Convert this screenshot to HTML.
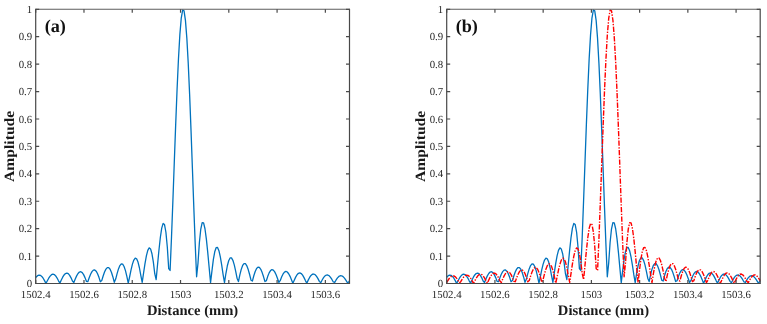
<!DOCTYPE html>
<html><head><meta charset="utf-8"><title>fig</title>
<style>
html,body{margin:0;padding:0;background:#fff;}
svg{display:block}
svg{will-change:transform}
text{text-rendering:geometricPrecision;font-family:"Liberation Serif",serif;fill:#262626}
.tk{font-size:10.8px}
.lb{font-size:14.6px;font-weight:bold;fill:#1a1a1a}
.pn{font-size:18.2px;font-weight:bold;fill:#111}
</style></head><body>
<svg width="767" height="324" viewBox="0 0 767 324">
<rect width="767" height="324" fill="#fff"/>
<rect x="35.7" y="9.3" width="313.8" height="274.2" fill="#fff" stroke="none"/>
<path d="M35.70,277.69 L36.17,277.07 L37.57,275.69 L38.96,275.08 L40.36,275.32 L41.75,276.40 L43.15,278.23 L44.55,280.63 L45.94,283.38 L47.34,280.81 L48.73,278.21 L50.13,276.10 L51.52,274.70 L52.92,274.17 L54.31,274.59 L55.71,275.92 L57.10,278.06 L58.50,280.80 L59.89,283.12 L61.29,280.00 L62.68,277.18 L64.08,274.93 L65.47,273.51 L66.87,273.07 L68.26,273.70 L69.66,275.34 L71.05,277.86 L72.45,281.02 L73.84,282.48 L75.24,279.00 L76.63,275.89 L78.03,273.48 L79.42,272.03 L80.82,271.71 L82.21,272.60 L83.61,274.63 L85.00,277.62 L86.40,281.31 L87.79,281.67 L89.19,277.72 L90.58,274.24 L91.98,271.61 L93.37,270.12 L94.77,269.96 L96.16,271.18 L97.56,273.71 L98.95,277.33 L100.35,281.71 L101.74,280.58 L103.14,276.01 L104.53,272.04 L105.93,269.11 L107.32,267.56 L108.72,267.59 L110.11,269.26 L111.51,272.47 L112.90,276.94 L114.30,282.27 L115.69,279.05 L117.09,273.59 L118.48,268.93 L119.88,265.56 L121.27,263.89 L122.67,264.18 L124.06,266.48 L125.46,270.66 L126.85,276.38 L128.25,283.12 L129.64,276.74 L131.04,269.93 L132.43,264.15 L133.83,260.06 L135.22,258.17 L136.62,258.81 L138.01,262.06 L139.41,267.75 L140.80,275.47 L142.20,282.45 L143.59,272.84 L144.99,263.64 L146.38,255.84 L147.78,250.33 L149.17,247.86 L150.57,248.94 L151.96,253.76 L153.36,262.19 L154.75,273.71 L156.15,279.54 L157.54,264.73 L158.94,250.21 L160.33,237.51 L161.73,228.12 L163.12,223.41 L164.52,224.52 L165.91,232.25 L167.31,246.98 L168.70,268.61 L170.10,270.48 L171.49,237.42 L172.89,200.77 L174.28,162.46 L175.68,124.62 L177.07,89.41 L178.47,58.83 L179.86,34.59 L181.26,18.02 L182.65,10.00 L184.05,10.89 L185.44,20.39 L186.84,38.09 L188.23,63.20 L189.63,94.52 L191.02,130.38 L192.42,168.73 L193.81,207.36 L195.21,244.02 L196.60,276.73 L198.00,263.09 L199.39,242.50 L200.79,229.02 L202.18,222.63 L203.58,222.83 L204.97,228.74 L206.37,239.14 L207.76,252.59 L209.16,267.58 L210.55,282.57 L211.95,270.81 L213.34,259.67 L214.74,251.83 L216.13,247.72 L217.53,247.41 L218.92,250.64 L220.32,256.81 L221.71,265.15 L223.11,274.70 L224.50,282.54 L225.90,273.51 L227.29,266.03 L228.69,260.72 L230.08,257.96 L231.48,257.88 L232.87,260.31 L234.27,264.90 L235.66,271.07 L237.06,278.15 L238.45,281.60 L239.85,274.90 L241.24,269.36 L242.64,265.49 L244.03,263.57 L245.43,263.71 L246.82,265.80 L248.22,269.55 L249.61,274.53 L251.01,280.19 L252.40,281.05 L253.80,275.76 L255.19,271.44 L256.59,268.48 L257.98,267.13 L259.38,267.45 L260.77,269.35 L262.17,272.59 L263.56,276.81 L264.96,281.54 L266.35,280.68 L267.75,276.35 L269.14,272.87 L270.54,270.56 L271.93,269.61 L273.33,270.07 L274.72,271.86 L276.12,274.75 L277.51,278.43 L278.91,282.51 L280.30,280.43 L281.70,276.79 L283.09,273.92 L284.49,272.09 L285.88,271.45 L287.28,272.02 L288.67,273.73 L290.07,276.36 L291.46,279.64 L292.86,283.23 L294.25,280.25 L295.65,277.14 L297.04,274.75 L298.44,273.28 L299.83,272.87 L301.23,273.54 L302.62,275.18 L304.02,277.62 L305.41,280.59 L306.81,283.21 L308.20,280.12 L309.60,277.43 L310.99,275.41 L312.39,274.24 L313.78,274.02 L315.18,274.76 L316.57,276.36 L317.97,278.63 L319.36,281.35 L320.76,282.77 L322.15,280.02 L323.55,277.68 L324.94,275.96 L326.34,275.03 L327.73,274.97 L329.13,275.77 L330.52,277.32 L331.92,279.47 L333.31,281.98 L334.71,282.41 L336.10,279.95 L337.50,277.89 L338.89,276.43 L340.29,275.71 L341.68,275.78 L343.08,276.62 L344.47,278.14 L345.87,280.17 L347.26,282.50 L348.66,282.11 L349.50,280.73" fill="none" stroke="#0072BD" stroke-width="1.3" stroke-linejoin="round"/>
<path d="M35.7,8.700000000000001V283.5H350.1M349.5,283.5V8.700000000000001" fill="none" stroke="#484848" stroke-width="1.2"/>
<path d="M35.7,9.3H349.5" fill="none" stroke="#5c5c5c" stroke-width="1.1"/>
<path d="M35.7,283.50h3.5 M349.5,283.50h-3.5 M35.7,256.08h3.5 M349.5,256.08h-3.5 M35.7,228.66h3.5 M349.5,228.66h-3.5 M35.7,201.24h3.5 M349.5,201.24h-3.5 M35.7,173.82h3.5 M349.5,173.82h-3.5 M35.7,146.40h3.5 M349.5,146.40h-3.5 M35.7,118.98h3.5 M349.5,118.98h-3.5 M35.7,91.56h3.5 M349.5,91.56h-3.5 M35.7,64.14h3.5 M349.5,64.14h-3.5 M35.7,36.72h3.5 M349.5,36.72h-3.5 M35.7,9.30h3.5 M349.5,9.30h-3.5 M35.70,283.5v-3.5 M35.70,9.3v3.5 M83.98,283.5v-3.5 M83.98,9.3v3.5 M132.25,283.5v-3.5 M132.25,9.3v3.5 M180.53,283.5v-3.5 M180.53,9.3v3.5 M228.81,283.5v-3.5 M228.81,9.3v3.5 M277.08,283.5v-3.5 M277.08,9.3v3.5 M325.36,283.5v-3.5 M325.36,9.3v3.5" stroke="#4a4a4a" stroke-width="1.2" fill="none"/>
<text x="32.2" y="287.10" text-anchor="end" class="tk">0</text>
<text x="32.2" y="259.68" text-anchor="end" class="tk">0.1</text>
<text x="32.2" y="232.26" text-anchor="end" class="tk">0.2</text>
<text x="32.2" y="204.84" text-anchor="end" class="tk">0.3</text>
<text x="32.2" y="177.42" text-anchor="end" class="tk">0.4</text>
<text x="32.2" y="150.00" text-anchor="end" class="tk">0.5</text>
<text x="32.2" y="122.58" text-anchor="end" class="tk">0.6</text>
<text x="32.2" y="95.16" text-anchor="end" class="tk">0.7</text>
<text x="32.2" y="67.74" text-anchor="end" class="tk">0.8</text>
<text x="32.2" y="40.32" text-anchor="end" class="tk">0.9</text>
<text x="32.2" y="12.90" text-anchor="end" class="tk">1</text>
<text x="35.70" y="297.5" text-anchor="middle" class="tk">1502.4</text>
<text x="83.98" y="297.5" text-anchor="middle" class="tk">1502.6</text>
<text x="132.25" y="297.5" text-anchor="middle" class="tk">1502.8</text>
<text x="180.53" y="297.5" text-anchor="middle" class="tk">1503</text>
<text x="228.81" y="297.5" text-anchor="middle" class="tk">1503.2</text>
<text x="277.08" y="297.5" text-anchor="middle" class="tk">1503.4</text>
<text x="325.36" y="297.5" text-anchor="middle" class="tk">1503.6</text>
<text x="192.60" y="315.3" text-anchor="middle" class="lb">Distance (mm)</text>
<text transform="translate(13.70,146.40) rotate(-90) scale(1.1,1)" text-anchor="middle" class="lb" style="font-size:14.2px">Amplitude</text>
<text x="44.70" y="32" class="pn">(a)</text>
<rect x="446.7" y="9.3" width="313.50000000000006" height="274.2" fill="#fff" stroke="none"/>
<path d="M446.70,277.29 L446.88,277.07 L448.27,275.69 L449.66,275.08 L451.06,275.32 L452.45,276.40 L453.85,278.23 L455.24,280.63 L456.64,283.38 L458.03,280.81 L459.43,278.21 L460.82,276.10 L462.22,274.70 L463.61,274.17 L465.01,274.59 L466.40,275.92 L467.80,278.06 L469.19,280.80 L470.59,283.12 L471.98,280.00 L473.38,277.18 L474.77,274.93 L476.17,273.51 L477.56,273.07 L478.96,273.70 L480.35,275.34 L481.75,277.86 L483.14,281.02 L484.54,282.48 L485.93,279.00 L487.33,275.89 L488.72,273.48 L490.12,272.03 L491.51,271.71 L492.91,272.60 L494.30,274.63 L495.70,277.62 L497.09,281.31 L498.49,281.67 L499.88,277.72 L501.28,274.24 L502.67,271.61 L504.07,270.12 L505.46,269.96 L506.86,271.18 L508.25,273.71 L509.65,277.33 L511.04,281.71 L512.44,280.58 L513.83,276.01 L515.23,272.04 L516.62,269.11 L518.02,267.56 L519.41,267.59 L520.81,269.26 L522.20,272.47 L523.60,276.94 L524.99,282.27 L526.39,279.05 L527.78,273.59 L529.18,268.93 L530.57,265.56 L531.97,263.89 L533.36,264.18 L534.76,266.48 L536.15,270.66 L537.55,276.38 L538.94,283.12 L540.34,276.74 L541.73,269.93 L543.13,264.15 L544.52,260.06 L545.92,258.17 L547.31,258.81 L548.71,262.06 L550.10,267.75 L551.50,275.47 L552.89,282.45 L554.29,272.84 L555.68,263.64 L557.08,255.84 L558.47,250.33 L559.87,247.86 L561.26,248.94 L562.66,253.76 L564.05,262.19 L565.45,273.71 L566.84,279.54 L568.24,264.73 L569.63,250.21 L571.03,237.51 L572.42,228.12 L573.82,223.41 L575.21,224.52 L576.61,232.25 L578.00,246.98 L579.40,268.61 L580.79,270.48 L582.19,237.42 L583.58,200.77 L584.98,162.46 L586.37,124.62 L587.77,89.41 L589.16,58.83 L590.56,34.59 L591.95,18.02 L593.35,10.00 L594.74,10.89 L596.14,20.39 L597.53,38.09 L598.93,63.20 L600.32,94.52 L601.72,130.38 L603.11,168.73 L604.51,207.36 L605.90,244.02 L607.30,276.73 L608.69,263.09 L610.09,242.50 L611.48,229.02 L612.88,222.63 L614.27,222.83 L615.67,228.74 L617.06,239.14 L618.46,252.59 L619.85,267.58 L621.25,282.57 L622.64,270.81 L624.04,259.67 L625.43,251.83 L626.83,247.72 L628.22,247.41 L629.62,250.64 L631.01,256.81 L632.41,265.15 L633.80,274.70 L635.20,282.54 L636.59,273.51 L637.99,266.03 L639.38,260.72 L640.78,257.96 L642.17,257.88 L643.57,260.31 L644.96,264.90 L646.36,271.07 L647.75,278.15 L649.15,281.60 L650.54,274.90 L651.94,269.36 L653.33,265.49 L654.73,263.57 L656.12,263.71 L657.52,265.80 L658.91,269.55 L660.31,274.53 L661.70,280.19 L663.10,281.05 L664.49,275.76 L665.89,271.44 L667.28,268.48 L668.68,267.13 L670.07,267.45 L671.47,269.35 L672.86,272.59 L674.26,276.81 L675.65,281.54 L677.05,280.68 L678.44,276.35 L679.84,272.87 L681.23,270.56 L682.63,269.61 L684.02,270.07 L685.42,271.86 L686.81,274.75 L688.21,278.43 L689.60,282.51 L691.00,280.43 L692.39,276.79 L693.79,273.92 L695.18,272.09 L696.58,271.45 L697.97,272.02 L699.37,273.73 L700.76,276.36 L702.16,279.64 L703.55,283.23 L704.95,280.25 L706.34,277.14 L707.74,274.75 L709.13,273.28 L710.53,272.87 L711.92,273.54 L713.32,275.18 L714.71,277.62 L716.11,280.59 L717.50,283.21 L718.90,280.12 L720.29,277.43 L721.69,275.41 L723.08,274.24 L724.48,274.02 L725.87,274.76 L727.27,276.36 L728.66,278.63 L730.06,281.35 L731.45,282.77 L732.85,280.02 L734.24,277.68 L735.64,275.96 L737.03,275.03 L738.43,274.97 L739.82,275.77 L741.22,277.32 L742.61,279.47 L744.01,281.98 L745.40,282.41 L746.80,279.95 L748.19,277.89 L749.59,276.43 L750.98,275.71 L752.38,275.78 L753.77,276.62 L755.17,278.14 L756.56,280.17 L757.96,282.50 L759.35,282.11 L760.20,280.73" fill="none" stroke="#0072BD" stroke-width="1.3" stroke-linejoin="round"/><path d="M446.70,282.42 L446.94,282.02 L448.33,279.78 L449.73,277.88 L451.12,276.52 L452.51,275.85 L453.91,275.95 L455.30,276.82 L456.70,278.38 L458.09,280.50 L459.49,282.97 L460.88,281.47 L462.28,279.06 L463.67,277.07 L465.07,275.69 L466.46,275.08 L467.86,275.32 L469.25,276.40 L470.65,278.23 L472.04,280.63 L473.44,283.38 L474.83,280.81 L476.23,278.21 L477.62,276.10 L479.02,274.70 L480.41,274.17 L481.81,274.59 L483.20,275.92 L484.60,278.06 L485.99,280.80 L487.39,283.12 L488.78,280.00 L490.18,277.18 L491.57,274.93 L492.97,273.51 L494.36,273.07 L495.76,273.70 L497.15,275.34 L498.55,277.86 L499.94,281.02 L501.34,282.48 L502.73,279.00 L504.13,275.89 L505.52,273.48 L506.92,272.03 L508.31,271.71 L509.71,272.60 L511.10,274.63 L512.50,277.62 L513.89,281.31 L515.29,281.67 L516.68,277.72 L518.08,274.24 L519.47,271.61 L520.87,270.12 L522.26,269.96 L523.66,271.18 L525.05,273.71 L526.45,277.33 L527.84,281.71 L529.24,280.58 L530.63,276.01 L532.03,272.04 L533.42,269.11 L534.82,267.56 L536.21,267.59 L537.61,269.26 L539.00,272.47 L540.40,276.94 L541.79,282.27 L543.19,279.05 L544.58,273.59 L545.98,268.93 L547.37,265.56 L548.77,263.89 L550.16,264.18 L551.56,266.48 L552.95,270.66 L554.35,276.38 L555.74,283.12 L557.14,276.74 L558.53,269.93 L559.93,264.15 L561.32,260.06 L562.72,258.17 L564.11,258.81 L565.51,262.06 L566.90,267.75 L568.30,275.47 L569.69,282.45 L571.09,272.84 L572.48,263.64 L573.88,255.84 L575.27,250.33 L576.67,247.86 L578.06,248.94 L579.46,253.76 L580.85,262.19 L582.25,273.71 L583.64,279.54 L585.04,264.73 L586.43,250.21 L587.83,237.51 L589.22,228.12 L590.62,223.41 L592.01,224.52 L593.41,232.25 L594.80,246.98 L596.20,268.61 L597.59,270.48 L598.99,237.42 L600.38,200.77 L601.78,162.46 L603.17,124.62 L604.57,89.41 L605.96,58.83 L607.36,34.59 L608.75,18.02 L610.15,10.00 L611.54,10.89 L612.94,20.39 L614.33,38.09 L615.73,63.20 L617.12,94.52 L618.52,130.38 L619.91,168.73 L621.31,207.36 L622.70,244.02 L624.10,276.73 L625.49,263.09 L626.89,242.50 L628.28,229.02 L629.68,222.63 L631.07,222.83 L632.47,228.74 L633.86,239.14 L635.26,252.59 L636.65,267.58 L638.05,282.57 L639.44,270.81 L640.84,259.67 L642.23,251.83 L643.63,247.72 L645.02,247.41 L646.42,250.64 L647.81,256.81 L649.21,265.15 L650.60,274.70 L652.00,282.54 L653.39,273.51 L654.79,266.03 L656.18,260.72 L657.58,257.96 L658.97,257.88 L660.37,260.31 L661.76,264.90 L663.16,271.07 L664.55,278.15 L665.95,281.60 L667.34,274.90 L668.74,269.36 L670.13,265.49 L671.53,263.57 L672.92,263.71 L674.32,265.80 L675.71,269.55 L677.11,274.53 L678.50,280.19 L679.90,281.05 L681.29,275.76 L682.69,271.44 L684.08,268.48 L685.48,267.13 L686.87,267.45 L688.27,269.35 L689.66,272.59 L691.06,276.81 L692.45,281.54 L693.85,280.68 L695.24,276.35 L696.64,272.87 L698.03,270.56 L699.43,269.61 L700.82,270.07 L702.22,271.86 L703.61,274.75 L705.01,278.43 L706.40,282.51 L707.80,280.43 L709.19,276.79 L710.59,273.92 L711.98,272.09 L713.38,271.45 L714.77,272.02 L716.17,273.73 L717.56,276.36 L718.96,279.64 L720.35,283.23 L721.75,280.25 L723.14,277.14 L724.54,274.75 L725.93,273.28 L727.33,272.87 L728.72,273.54 L730.12,275.18 L731.51,277.62 L732.91,280.59 L734.30,283.21 L735.70,280.12 L737.09,277.43 L738.49,275.41 L739.88,274.24 L741.28,274.02 L742.67,274.76 L744.07,276.36 L745.46,278.63 L746.86,281.35 L748.25,282.77 L749.65,280.02 L751.04,277.68 L752.44,275.96 L753.83,275.03 L755.23,274.97 L756.62,275.77 L758.02,277.32 L759.41,279.47 L760.20,280.85" fill="none" stroke="#FF0000" stroke-width="1.4" stroke-dasharray="5.3,1.4,1.4,1.4" stroke-linejoin="round"/>
<path d="M446.7,8.700000000000001V283.5H760.8000000000001M760.2,283.5V8.700000000000001" fill="none" stroke="#484848" stroke-width="1.2"/>
<path d="M446.7,9.3H760.2" fill="none" stroke="#5c5c5c" stroke-width="1.1"/>
<path d="M446.7,283.50h3.5 M760.2,283.50h-3.5 M446.7,256.08h3.5 M760.2,256.08h-3.5 M446.7,228.66h3.5 M760.2,228.66h-3.5 M446.7,201.24h3.5 M760.2,201.24h-3.5 M446.7,173.82h3.5 M760.2,173.82h-3.5 M446.7,146.40h3.5 M760.2,146.40h-3.5 M446.7,118.98h3.5 M760.2,118.98h-3.5 M446.7,91.56h3.5 M760.2,91.56h-3.5 M446.7,64.14h3.5 M760.2,64.14h-3.5 M446.7,36.72h3.5 M760.2,36.72h-3.5 M446.7,9.30h3.5 M760.2,9.30h-3.5 M446.70,283.5v-3.5 M446.70,9.3v3.5 M494.93,283.5v-3.5 M494.93,9.3v3.5 M543.16,283.5v-3.5 M543.16,9.3v3.5 M591.39,283.5v-3.5 M591.39,9.3v3.5 M639.62,283.5v-3.5 M639.62,9.3v3.5 M687.85,283.5v-3.5 M687.85,9.3v3.5 M736.08,283.5v-3.5 M736.08,9.3v3.5" stroke="#4a4a4a" stroke-width="1.2" fill="none"/>
<text x="443.2" y="287.10" text-anchor="end" class="tk">0</text>
<text x="443.2" y="259.68" text-anchor="end" class="tk">0.1</text>
<text x="443.2" y="232.26" text-anchor="end" class="tk">0.2</text>
<text x="443.2" y="204.84" text-anchor="end" class="tk">0.3</text>
<text x="443.2" y="177.42" text-anchor="end" class="tk">0.4</text>
<text x="443.2" y="150.00" text-anchor="end" class="tk">0.5</text>
<text x="443.2" y="122.58" text-anchor="end" class="tk">0.6</text>
<text x="443.2" y="95.16" text-anchor="end" class="tk">0.7</text>
<text x="443.2" y="67.74" text-anchor="end" class="tk">0.8</text>
<text x="443.2" y="40.32" text-anchor="end" class="tk">0.9</text>
<text x="443.2" y="12.90" text-anchor="end" class="tk">1</text>
<text x="446.70" y="297.5" text-anchor="middle" class="tk">1502.4</text>
<text x="494.93" y="297.5" text-anchor="middle" class="tk">1502.6</text>
<text x="543.16" y="297.5" text-anchor="middle" class="tk">1502.8</text>
<text x="591.39" y="297.5" text-anchor="middle" class="tk">1503</text>
<text x="639.62" y="297.5" text-anchor="middle" class="tk">1503.2</text>
<text x="687.85" y="297.5" text-anchor="middle" class="tk">1503.4</text>
<text x="736.08" y="297.5" text-anchor="middle" class="tk">1503.6</text>
<text x="603.45" y="315.3" text-anchor="middle" class="lb">Distance (mm)</text>
<text transform="translate(424.70,146.40) rotate(-90) scale(1.1,1)" text-anchor="middle" class="lb" style="font-size:14.2px">Amplitude</text>
<text x="455.70" y="32" class="pn">(b)</text>
</svg>
</body></html>
